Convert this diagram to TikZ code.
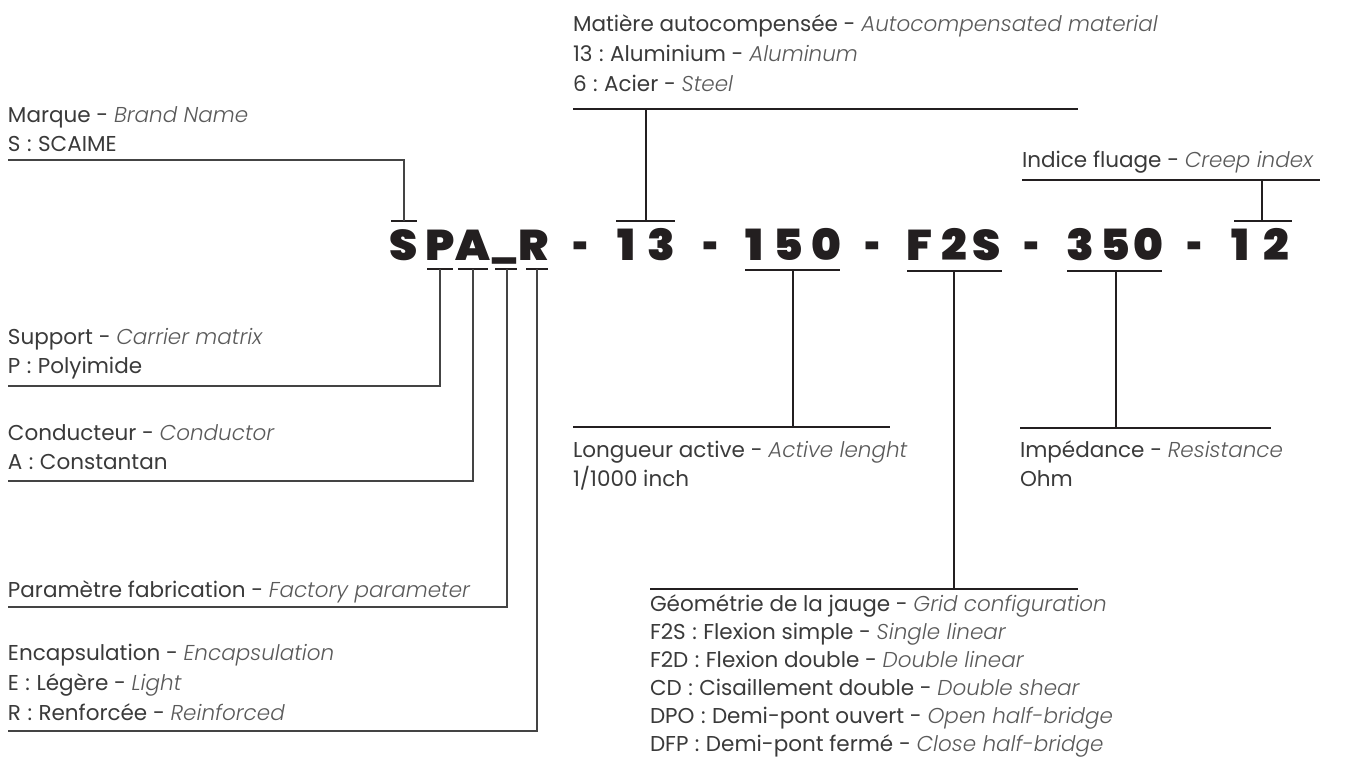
\documentclass[tikz,border=0pt]{standalone}
\usepackage{fontspec}
\setmainfont{Poppins}
\newfontfamily\lightit{Poppins Light Italic}
\newfontfamily\codefont{Poppins Black}[FakeStretch=1.05]
\definecolor{textc}{HTML}{3A3A3A}
\definecolor{enc}{HTML}{5A5A5A}
\definecolor{linec}{HTML}{231F20}
\definecolor{lgray}{HTML}{444444}
\definecolor{codec}{HTML}{231F20}
\newcommand\en[1]{{\lightit\color{enc}#1}}
\newcommand\cl{\hspace{0.3em}:\hspace{0.3em}}
\newcommand\dsh{\scalebox{0.6}[1]{-}}
\tikzset{
  lbl/.style={anchor=base west, inner sep=0pt, outer sep=0pt, font=\fontsize{21.5}{21.5}\selectfont, text=textc},
  code/.style={anchor=base, inner sep=0pt, outer sep=0pt, font=\codefont\fontsize{43}{43}\selectfont, text=codec},
  tick/.style={draw=linec, line width=2.3pt},
  ln/.style={draw=linec, line width=2pt},
  lnl/.style={draw=lgray, line width=1.4pt}
}
\begin{document}
\begin{tikzpicture}[x=1pt,y=-1pt]
\useasboundingbox[fill=white] (0,0) rectangle (1349,756);

% ---- code ----
\node[code] (cS)  at (404,260) {S};
\node[code] (cP)  at (440,260) {P};
\node[code] (cA)  at (473,260) {A};
\node[code] (cU)  at (504,256) {\scalebox{0.8}[0.7]{\_}};
\node[code] (cR)  at (534,260) {R};
\node[code] (d1)  at (581,260) {\dsh};
\node[code] (c13a) at (626,260) {1};
\node[code] (c13b) at (661,260) {3};
\node[code] (d2)  at (711,260) {\dsh};
\node[code] (c15a) at (754,260) {1};
\node[code] (c15b) at (788,260) {5};
\node[code] (c15c) at (826,260) {0};
\node[code] (d3)  at (873,260) {\dsh};
\node[code] (cF)  at (919,260) {F};
\node[code] (c2)  at (954,260) {2};
\node[code] (cS2) at (987,260) {S};
\node[code] (d4)  at (1032,260) {\dsh};
\node[code] (c35a) at (1080,260) {3};
\node[code] (c35b) at (1115,260) {5};
\node[code] (c35c) at (1148,260) {0};
\node[code] (d5)  at (1195,260) {\dsh};
\node[code] (c12a) at (1240,260) {1};
\node[code] (c12b) at (1276,260) {2};

% ---- labels ----
\node[lbl] (marque) at (8,122) {Marque - \en{Brand Name}};
\node[lbl] (scaime) at (8,151) {S\cl{}SCAIME};
\node[lbl] (support) at (8,344) {Support - \en{Carrier matrix}};
\node[lbl] (poly) at (8,373) {P\cl{}Polyimide};
\node[lbl] (cond) at (8,440) {Conducteur - \en{Conductor}};
\node[lbl] (const) at (8,469) {A\cl{}Constantan};
\node[lbl] (param) at (8,597) {Paramètre fabrication - \en{Factory parameter}};
\node[lbl] (encap) at (8,660) {Encapsulation - \en{Encapsulation}};
\node[lbl] (leg) at (8,690) {E\cl{}Légère - \en{Light}};
\node[lbl] (renf) at (8,720) {R\cl{}Renforcée - \en{Reinforced}};

\node[lbl] (mat) at (573,31) {Matière autocompensée - \en{Autocompensated material}};
\node[lbl] (alu) at (573,61) {13\cl{}Aluminium - \en{Aluminum}};
\node[lbl] (acier) at (573,91) {6\cl{}Acier - \en{Steel}};

\node[lbl] (indice) at (1022,167) {Indice fluage - \en{Creep index}};

\node[lbl] (long) at (573,457) {Longueur active - \en{Active lenght}};
\node[lbl] (inch) at (573,486) {1/1000 inch};
\node[lbl] (imp) at (1020,457) {Impédance - \en{Resistance}};
\node[lbl] (ohm) at (1020,486) {Ohm};

\node[lbl] (geo) at (650,611) {Géométrie de la jauge - \en{Grid configuration}};
\node[lbl] (f2s) at (650,639) {F2S\cl{}Flexion simple - \en{Single linear}};
\node[lbl] (f2d) at (650,667) {F2D\cl{}Flexion double - \en{Double linear}};
\node[lbl] (cd) at (650,695) {CD\cl{}Cisaillement double - \en{Double shear}};
\node[lbl] (dpo) at (650,723) {DPO\cl{}Demi-pont ouvert - \en{Open half-bridge}};
\node[lbl] (dfp) at (650,751) {DFP\cl{}Demi-pont fermé - \en{Close half-bridge}};

% ---- coordinates ----
\coordinate (kS) at (404,221);
\coordinate (uMarque) at (8,160);
\coordinate (kP) at (440,269);
\coordinate (uSupport) at (8,386);
\coordinate (kA) at (473,269);
\coordinate (uCond) at (8,481);
\coordinate (kU) at (507,269);
\coordinate (uParam) at (8,607);
\coordinate (kR) at (537,269);
\coordinate (uEncap) at (8,731);
\coordinate (k13) at (646,221);
\coordinate (uMatL) at (573,109);
\coordinate (uMatR) at (1078,109);
\coordinate (k12) at (1262,221);
\coordinate (uIndL) at (1022,180);
\coordinate (uIndR) at (1320,180);
\coordinate (k150) at (793,270);
\coordinate (uLongL) at (573,427);
\coordinate (uLongR) at (890,427);
\coordinate (kF2S) at (954,271);
\coordinate (uGeoL) at (650,589);
\coordinate (uGeoR) at (1078,589);
\coordinate (k350) at (1116,271);
\coordinate (uImpL) at (1020,428);
\coordinate (uImpR) at (1271,428);

% ---- ticks ----
\draw[tick] (391,221) -- (417,221);
\draw[tick] (616,221) -- (675,221);
\draw[tick] (1234,221) -- (1292,221);
\draw[tick] (427,269) -- (453,269);
\draw[tick] (458,269) -- (488,269);
\draw[tick] (495,269) -- (517,269);
\draw[tick] (526,269) -- (548,269);
\draw[tick] (745,270) -- (840,270);
\draw[tick] (907,271) -- (1002,271);
\draw[tick] (1067,271) -- (1162,271);

% ---- connectors ----
\draw[lnl] (kS) |- (uMarque);
\draw[lnl] (kP) |- (uSupport);
\draw[lnl] (kA) |- (uCond);
\draw[lnl] (kU) |- (uParam);
\draw[lnl] (kR) |- (uEncap);
\draw[ln] (uMatL) -- (uMatR);
\draw[ln] (k13) -- (k13 |- uMatL);
\draw[ln] (uIndL) -- (uIndR);
\draw[ln] (k12) -- (k12 |- uIndL);
\draw[ln] (uLongL) -- (uLongR);
\draw[ln] (k150) -- (k150 |- uLongL);
\draw[ln] (uGeoL) -- (uGeoR);
\draw[ln] (kF2S) -- (kF2S |- uGeoL);
\draw[ln] (uImpL) -- (uImpR);
\draw[ln] (k350) -- (k350 |- uImpL);
\end{tikzpicture}
\end{document}
